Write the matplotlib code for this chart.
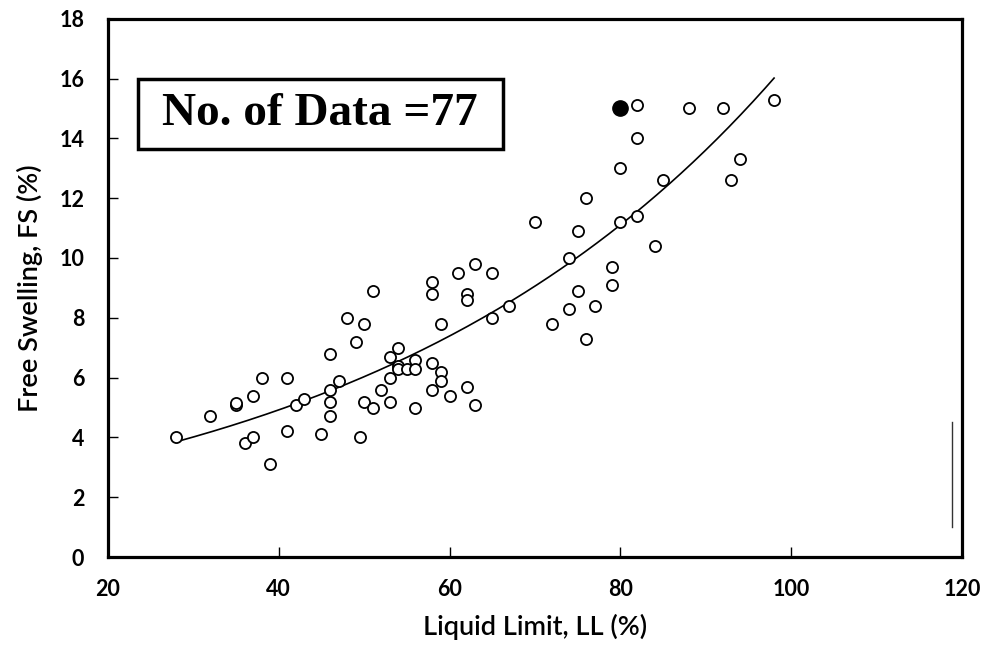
import numpy as np
import matplotlib
matplotlib.use('Agg')
import matplotlib.pyplot as plt
import matplotlib.patches as patches

# liquid limit (%) and free swelling (%)
ll = [28, 32, 35, 35, 36, 37, 37, 38, 39, 41, 41, 42, 43, 45, 46, 46, 46, 46,
      47, 48, 49, 49.5, 50, 50, 51, 51, 52, 53, 53, 53, 54, 54, 54, 55, 56, 56,
      56, 58, 58, 58, 58, 59, 59, 59, 60, 61, 62, 62, 62, 63, 63, 65, 65, 67,
      70, 72, 74, 74, 75, 75, 76, 76, 77, 79, 79, 80, 80, 82, 82, 82, 84, 85,
      88, 92, 93, 94, 98]
fs = [4.0, 4.7, 5.1, 5.15, 3.8, 4.0, 5.4, 6.0, 3.1, 6.0, 4.2, 5.1, 5.3, 4.1,
      6.8, 5.6, 5.2, 4.7, 5.9, 8.0, 7.2, 4.0, 7.8, 5.2, 8.9, 5.0, 5.6, 6.7, 6.0,
      5.2, 7.0, 6.4, 6.3, 6.3, 6.6, 6.3, 5.0, 9.2, 8.8, 6.5, 5.6, 7.8, 6.2, 5.9,
      5.4, 9.5, 8.8, 8.6, 5.7, 9.8, 5.1, 9.5, 8.0, 8.4, 11.2, 7.8, 10.0, 8.3,
      10.9, 8.9, 12.0, 7.3, 8.4, 9.7, 9.1, 13.0, 11.2, 15.1, 14.0, 11.4, 10.4,
      12.6, 15.0, 15.0, 12.6, 13.3, 15.3]

# highlighted sample
ll_hi = [80]
fs_hi = [15.0]

# exponential trendline y = a*exp(b*x), drawn from 28 to 98
trend_a = 2.18
trend_b = 0.02035
trend_x = np.linspace(28, 98, 200)

fig = plt.figure(figsize=(9.85, 6.45), dpi=100)
ax = fig.add_axes([0.1096, 0.1364, 0.8670, 0.8345])

ax.plot(ll, fs, 'o', mfc='white', mec='black', ms=8, mew=1.3, zorder=3)
ax.plot(ll_hi, fs_hi, 'o', mfc='black', mec='black', ms=11, zorder=4)
ax.plot(trend_x, trend_a * np.exp(trend_b * trend_x), color='black', lw=1.2, zorder=2)

# stray vertical bar near the right spine
ax.plot([118.8, 118.8], [1.0, 4.5], color='#333333', lw=1.0)

ax.set_xlim(20, 120)
ax.set_ylim(0, 18)
ax.set_xticks([20, 40, 60, 80, 100, 120])
ax.set_yticks(range(0, 19, 2))

for s in ax.spines.values():
    s.set_linewidth(2.3)
ax.tick_params(direction='in', length=7, width=1.0)
ax.tick_params(axis='x', pad=16)
ax.tick_params(axis='y', pad=17)
for lab in ax.get_xticklabels() + ax.get_yticklabels():
    lab.set_family('Lato')
    lab.set_fontweight('bold')
    lab.set_fontsize(15.5)

ax.set_xlabel('Liquid Limit, LL (%)', family='Lato', fontweight='semibold',
              fontsize=19.5, labelpad=10)
ax.set_ylabel('Free Swelling, FS (%)', family='Lato', fontweight='semibold',
              fontsize=19.5, labelpad=12)

# text box
ax.add_patch(patches.Rectangle((0.0351, 0.7588), 0.4269, 0.1299, transform=ax.transAxes,
                               fc='white', ec='black', lw=2.5, zorder=5))
ax.text(0.2486, 0.8238, 'No. of Data =77', transform=ax.transAxes,
        family='Liberation Serif', fontweight='bold', fontsize=34,
        ha='center', va='center', zorder=6)

plt.savefig('out.png', dpi=100)
plt.close()
